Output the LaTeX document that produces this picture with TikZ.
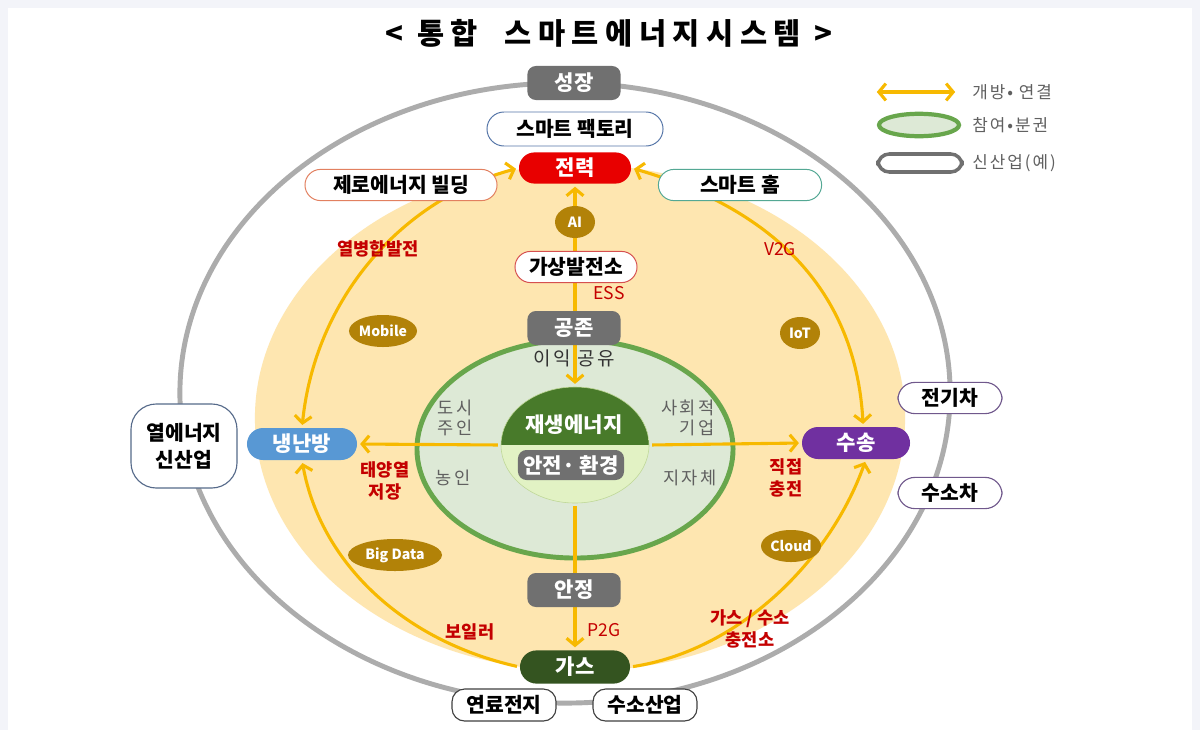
\documentclass[tikz,border=0pt]{standalone}
\usepackage{fontspec}
\setmainfont{Noto Sans CJK KR}
\newfontfamily\krwide[LetterSpace=12]{Noto Sans CJK KR}
\newfontfamily\krtitle[LetterSpace=22]{Noto Sans CJK KR}
\usetikzlibrary{arrows.meta,shapes.geometric,shapes.misc}

\definecolor{pagebg}{RGB}{243,244,249}
\definecolor{outerline}{RGB}{172,172,172}
\definecolor{sunfill}{RGB}{254,230,176}
\definecolor{flowline}{RGB}{247,185,0}
\definecolor{ringline}{RGB}{104,166,76}
\definecolor{ringfill}{RGB}{221,233,214}
\definecolor{coredark}{RGB}{72,122,42}
\definecolor{corelight}{RGB}{226,242,196}
\definecolor{corerim}{RGB}{190,215,150}
\definecolor{boxgray}{RGB}{112,112,112}
\definecolor{powerred}{RGB}{232,0,0}
\definecolor{hvacblue}{RGB}{88,152,212}
\definecolor{moveviolet}{RGB}{112,48,160}
\definecolor{gasgreen}{RGB}{52,84,32}
\definecolor{techolive}{RGB}{178,130,8}
\definecolor{notered}{RGB}{196,0,0}
\definecolor{ringtext}{RGB}{96,96,96}
\definecolor{lineblue}{RGB}{86,118,168}
\definecolor{lineorange}{RGB}{226,128,96}
\definecolor{lineteal}{RGB}{84,168,148}
\definecolor{linered}{RGB}{214,80,80}
\definecolor{lineviolet}{RGB}{112,88,140}
\definecolor{lineslate}{RGB}{86,106,138}

\pgfdeclarelayer{back}
\pgfdeclarelayer{flows}
\pgfsetlayers{back,flows,main}

\tikzset{
  >={Straight Barb[length=5pt,width=12pt]},
  flow/.style={draw=flowline, line width=2.2pt, shorten >=2pt, shorten <=2pt},
  stage/.style={rounded corners=6pt, fill=boxgray, text=white, inner sep=0pt,
    minimum width=2.33cm, minimum height=0.85cm, font=\bfseries\fontsize{15}{15}\selectfont},
  hub/.style={rounded rectangle, text=white, inner sep=0pt, minimum width=2.75cm,
    minimum height=0.8cm, font=\bfseries\fontsize{15}{15}\selectfont},
  biz/.style={rounded rectangle, draw, fill=white, line width=0.7pt, inner sep=0pt,
    minimum height=0.78cm, font=\bfseries\fontsize{14.5}{14.5}\selectfont},
  newbiz/.style={rounded corners=9pt, draw=black!75, fill=white, line width=0.8pt, inner sep=0pt,
    minimum width=2.6cm, minimum height=0.8cm, font=\bfseries\fontsize{14.5}{14.5}\selectfont},
  tech/.style={ellipse, fill=techolive, text=white, inner sep=0pt, minimum height=0.8cm,
    font=\bfseries\fontsize{10}{10}\selectfont},
  note/.style={text=notered, align=center, inner sep=0pt, font=\bfseries\fontsize{12.5}{15.5}\selectfont},
  actor/.style={text=ringtext, align=center, inner sep=0pt, font=\krwide\fontsize{12.5}{14}\selectfont},
  legendtext/.style={text=ringtext, anchor=west, inner sep=0pt, font=\krwide\fontsize{12}{12}\selectfont},
}

\begin{document}
\begin{tikzpicture}[x=0.025cm, y=-0.025cm]
   \begin{pgfonlayer}{back}
    \fill[pagebg] (0,0) rectangle (1200,730);
    \fill[white] (8,8) rectangle (1192,730);
    \draw[outerline, line width=3.5pt] (565,393) ellipse [x radius=9.625cm, y radius=7.75cm];
    \fill[sunfill] (580,418) ellipse [x radius=8.125cm, y radius=6.325cm];
    \draw[ringline, fill=ringfill, line width=3.5pt] (575,449) ellipse [x radius=3.95cm, y radius=2.725cm];
   \end{pgfonlayer}

   \node[font=\krtitle\bfseries\fontsize{21}{21}\selectfont] (title) at (609,33) {<\ 통합\ \ 스마트에너지시스템\ >};

   \node[ellipse, draw=corerim, fill=corelight, minimum width=3.7cm, minimum height=2.9cm, inner sep=0pt,
     path picture={\fill[coredark] (path picture bounding box.north west) rectangle (path picture bounding box.east);}]
     (core) at (575,445) {};
   \node[text=white, font=\bfseries\fontsize{15}{15}\selectfont] (renew) at (574,425) {재생에너지};
   \node[stage, minimum width=2.65cm, minimum height=0.75cm] (safe) at (571,465) {안전·\ 환경};

   \node[stage] (grow) at (574,83) {성장};
   \node[stage] (coexist) at (574,328) {공존};
   \node[stage] (stable) at (574,590) {안정};

   \node[hub, fill=powerred, minimum width=2.8cm, minimum height=0.78cm] (power) at (575,168) {전력};
   \node[hub, fill=hvacblue] (hvac) at (302,444) {냉난방};
   \node[hub, fill=moveviolet, minimum width=2.7cm] (transport) at (856,443) {수송};
   \node[hub, fill=gasgreen, minimum height=0.83cm] (gas) at (575,667) {가스};

   \node[biz, draw=lineblue, minimum width=4.4cm, minimum height=0.85cm] (factory) at (575,129) {스마트 팩토리};
   \node[biz, draw=lineorange, minimum width=4.8cm] (zeb) at (401,185) {제로에너지 빌딩};
   \node[biz, draw=lineteal, minimum width=4.08cm] (home) at (740,185) {스마트 홈};
   \node[biz, draw=linered, minimum width=3.05cm] (vpp) at (576,267) {가상발전소};

   \node[newbiz, draw=lineslate, rounded corners=18pt, minimum width=2.65cm, minimum height=2.1cm,
     align=center, font=\bfseries\fontsize{14.5}{19}\selectfont] (heat) at (184,446) {열에너지\\신산업};
   \node[newbiz, draw=lineviolet, rounded corners=12pt, minimum height=0.78cm] (ev) at (950,398) {전기차};
   \node[newbiz, draw=lineviolet, rounded corners=12pt, minimum height=0.78cm] (fcev) at (950,493) {수소차};
   \node[newbiz] (fuelcell) at (504,705) {연료전지};
   \node[newbiz] (h2ind) at (645,705) {수소산업};

   \node[tech, minimum width=1cm] (ai) at (575,222) {AI};
   \node[tech, minimum width=1.6cm] (mobile) at (383,331) {Mobile};
   \node[tech, minimum width=1cm] (iot) at (800,333) {IoT};
   \node[tech, minimum width=2.35cm] (bigdata) at (395,555) {Big Data};
   \node[tech, minimum width=1.5cm] (cloud) at (791,546) {Cloud};

   \node[note] (chp) at (378,249) {열병합발전};
   \node[note, font=\fontsize{12.5}{15.5}\selectfont] (v2g) at (780,249) {V2G};
   \node[note, font=\fontsize{12.5}{15.5}\selectfont] (ess) at (609,293) {ESS};
   \node[note] (solar) at (385,481) {태양열\\저장};
   \node[note] (direct) at (786,478) {직접\\충전};
   \node[note] (boiler) at (470,632) {보일러};
   \node[note, font=\fontsize{12.5}{15.5}\selectfont] (p2g) at (604,630) {P2G};
   \node[note] (station) at (750,629) {가스 / 수소\\충전소};

   \node[actor, text=black!80, font=\krwide\fontsize{13.5}{13.5}\selectfont] (share) at (574,358) {이익 공유};
   \node[actor] (city) at (455,418) {도시\\주인};
   \node[actor, align=right] (social) at (688,418) {사회적\\기업};
   \node[actor] (farmer) at (453,478) {농인};
   \node[actor] (local) at (690,478) {지자체};

   \coordinate (legfrom) at (874,92);
   \coordinate (legto) at (958,92);
   \node[ellipse, draw=ringline, fill=ringfill, line width=3pt, minimum width=2cm, minimum height=0.56cm] (legring) at (919,125) {};
   \node[rounded corners=8pt, draw=boxgray, line width=2.5pt, minimum width=2.1cm, minimum height=0.45cm] (legbox) at (920,163) {};
   \node[legendtext] (legopen) at (972,92) {개방• 연결};
   \node[legendtext] (legjoin) at (972,125) {참여•분권};
   \node[legendtext] (legnew) at (972,163) {신산업(예)};

   \begin{pgfonlayer}{flows}
    \draw[flow,<->] (legfrom) -- (legto);
    \draw[flow,<->] (power.south) -- (core.north);
    \draw[flow,->] (core.west) -- (hvac.east);
    \draw[flow,->] (core.east) -- (transport.west);
    \draw[flow,->] (core.south) -- (gas.north);
    \draw[flow,<->] (hvac.north) .. controls (315,300) and (400,200) .. (power.west);
    \draw[flow,<->] (power.east) .. controls (760,205) and (855,280) .. ([xshift=0.18cm]transport.north);
    \draw[flow,->] (gas.west) .. controls (400,640) and (320,560) .. (hvac.south);
    \draw[flow,->] (gas.east) .. controls (740,650) and (830,560) .. ([xshift=0.25cm]transport.south);
   \end{pgfonlayer}
\end{tikzpicture}
\end{document}
